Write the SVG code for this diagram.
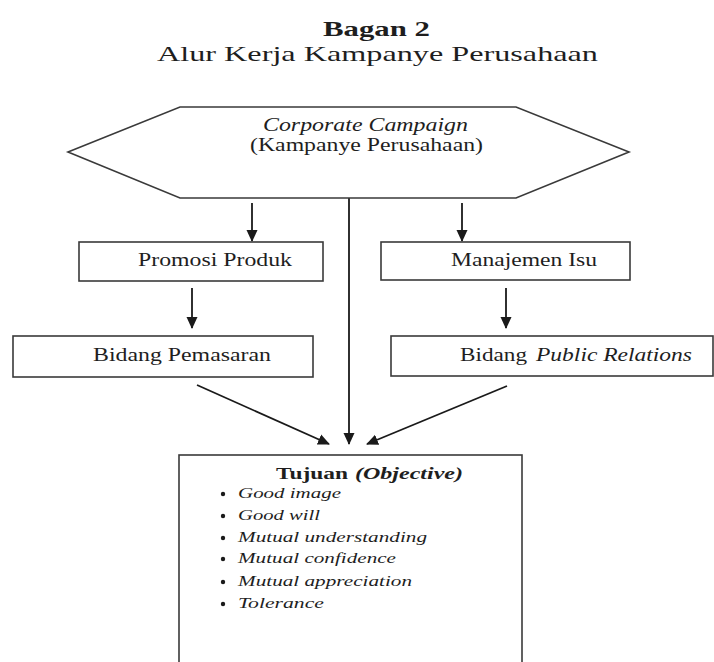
<svg xmlns="http://www.w3.org/2000/svg" width="714" height="662" viewBox="0 0 714 662">
<defs>
<style>
text{font-family:"Liberation Serif","Times New Roman",serif;fill:#1e1e1e}
.shape{fill:#fff;stroke:#3a3a3a;stroke-width:1.6}
.conn{stroke:#1a1a1a;stroke-width:1.8;fill:none;marker-end:url(#ah)}
.lbl{font-size:18px}
.it{font-style:italic}
.item{font-size:15.5px;font-style:italic}
.bul{fill:#1a1a1a}
</style>
<marker id="ah" viewBox="0 0 12 12" refX="11" refY="6" markerWidth="12" markerHeight="12" markerUnits="userSpaceOnUse" orient="auto">
<path d="M0,0.5 L12,6 L0,11.5 Z" fill="#1a1a1a"/>
</marker>
</defs>
<rect width="714" height="662" fill="#fff"/>
<g id="title">
<text x="323" y="36" font-size="22" font-weight="bold" textLength="107" lengthAdjust="spacingAndGlyphs">Bagan 2</text>
<text x="157" y="61" font-size="22" textLength="441" lengthAdjust="spacingAndGlyphs">Alur Kerja Kampanye Perusahaan</text>
</g>
<g id="connectors">
<line class="conn" x1="349" y1="198" x2="349" y2="444"/>
<line class="conn" x1="252" y1="203" x2="252" y2="241"/>
<line class="conn" x1="462" y1="203" x2="462" y2="241"/>
<line class="conn" x1="192" y1="288" x2="192" y2="328"/>
<line class="conn" x1="506" y1="288" x2="506" y2="328"/>
<line class="conn" x1="197" y1="385" x2="329" y2="444"/>
<line class="conn" x1="507" y1="386" x2="367" y2="444"/>
</g>
<g id="corporate-campaign">
<polygon class="shape" points="68,152 180,107 516,107 629,152 516,198 180,198"/>
<text class="lbl it" x="263" y="131" textLength="205" lengthAdjust="spacingAndGlyphs">Corporate Campaign</text>
<text class="lbl" x="250" y="151" textLength="233" lengthAdjust="spacingAndGlyphs">(Kampanye Perusahaan)</text>
</g>
<g id="promosi-produk">
<rect class="shape" x="79" y="242" width="244" height="39"/>
<text class="lbl" x="138" y="266" textLength="154" lengthAdjust="spacingAndGlyphs">Promosi Produk</text>
</g>
<g id="manajemen-isu">
<rect class="shape" x="381" y="242" width="249" height="38"/>
<text class="lbl" x="451" y="266" textLength="146" lengthAdjust="spacingAndGlyphs">Manajemen Isu</text>
</g>
<g id="bidang-pemasaran">
<rect class="shape" x="13" y="336" width="300" height="41"/>
<text class="lbl" x="93" y="361" textLength="178" lengthAdjust="spacingAndGlyphs">Bidang Pemasaran</text>
</g>
<g id="bidang-pr">
<rect class="shape" x="391" y="336" width="322" height="40"/>
<text class="lbl" x="460" y="361" textLength="67" lengthAdjust="spacingAndGlyphs">Bidang</text>
<text class="lbl it" x="536" y="361" textLength="156" lengthAdjust="spacingAndGlyphs">Public Relations</text>
</g>
<g id="tujuan">
<rect class="shape" x="179" y="455" width="343" height="220"/>
<text x="276" y="479" font-size="17" font-weight="bold" textLength="72" lengthAdjust="spacingAndGlyphs">Tujuan</text>
<text x="355" y="479" font-size="17" font-weight="bold" font-style="italic" textLength="108" lengthAdjust="spacingAndGlyphs">(Objective)</text>
<circle class="bul" cx="223" cy="494" r="2.2"/>
<circle class="bul" cx="223" cy="516" r="2.2"/>
<circle class="bul" cx="223" cy="538" r="2.2"/>
<circle class="bul" cx="223" cy="559" r="2.2"/>
<circle class="bul" cx="223" cy="582" r="2.2"/>
<circle class="bul" cx="223" cy="604" r="2.2"/>
<text class="item" x="238" y="498" textLength="103" lengthAdjust="spacingAndGlyphs">Good image</text>
<text class="item" x="238" y="520" textLength="82" lengthAdjust="spacingAndGlyphs">Good will</text>
<text class="item" x="238" y="542" textLength="189" lengthAdjust="spacingAndGlyphs">Mutual understanding</text>
<text class="item" x="238" y="563" textLength="158" lengthAdjust="spacingAndGlyphs">Mutual confidence</text>
<text class="item" x="238" y="586" textLength="174" lengthAdjust="spacingAndGlyphs">Mutual appreciation</text>
<text class="item" x="238" y="608" textLength="86" lengthAdjust="spacingAndGlyphs">Tolerance</text>
</g>
</svg>
